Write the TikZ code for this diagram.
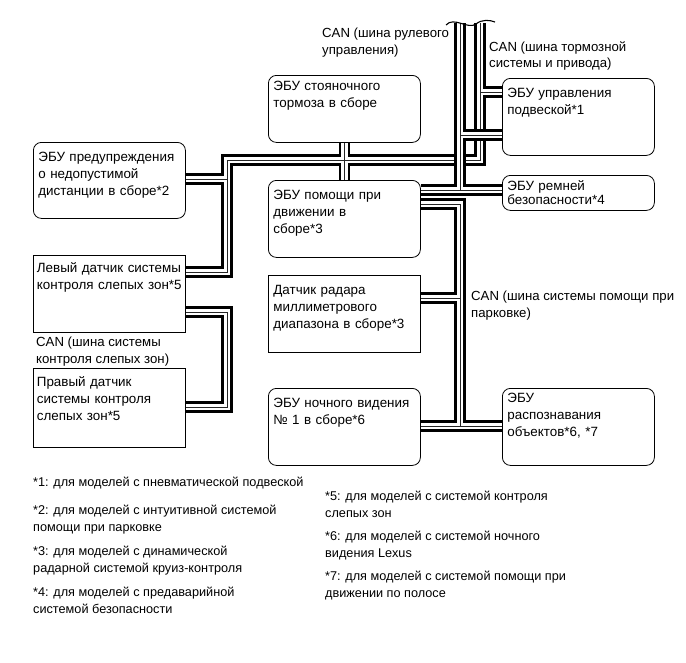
\documentclass[tikz,border=0pt]{standalone}
\usepackage{fontspec}
\setmainfont{Liberation Sans}
\pgfdeclarelayer{background}
\pgfsetlayers{background,main}

% one CAN pair: outer wires, gap, core line
\newcommand{\canbus}[1]{%
  \draw[busout] #1;
  \draw[busgap] #1;
  \draw[buscore] #1;}

\begin{document}
\begin{tikzpicture}[x=1pt, y=-1pt,
    ecu/.style={draw, line width=0.8pt, rounded corners=8pt, anchor=north west,
      inner xsep=5pt, inner ysep=0pt, text width=142pt, align=left,
      font=\fontsize{13.4}{16.8}\selectfont, text height=19pt, text depth=#1},
    ecu/.default=58pt,
    sensor/.style={ecu=#1, sharp corners, inner xsep=3.5pt, text width=145pt},
    sensor/.default=58pt,
    buslabel/.style={anchor=north west, inner sep=0pt, align=left,
      font=\fontsize{13.2}{16.5}\selectfont},
    note/.style={anchor=north west, inner sep=0pt, align=left,
      font=\fontsize{12.7}{16.5}\selectfont},
    busout/.style={line width=11.5pt, black},
    busgap/.style={line width=6.3pt, white},
    buscore/.style={line width=0.8pt, black!85}]
  \useasboundingbox (0,0) rectangle (686,662);

  % control units
  \node[ecu=57pt] (dw) at (33,142) {ЭБУ предупреждения\\о недопустимой\\дистанции в сборе*2};
  \node[sensor, text height=17pt, text depth=60pt] (lbsm) at (33,255) {\mbox{Левый датчик системы}\\контроля слепых зон*5};
  \node[sensor=61pt, text height=18pt] (rbsm) at (33,368) {Правый датчик\\системы контроля\\слепых зон*5};
  \node[ecu=52pt, text height=15pt] (pkb) at (268,75) {ЭБУ стояночного\\тормоза в сборе};
  \node[ecu] (das) at (268,180) {ЭБУ помощи при\\движении в\\сборе*3};
  \node[sensor, inner xsep=5pt, text width=142pt] (mmw) at (268,275) {Датчик радара\\миллиметрового\\диапазона в сборе*3};
  \node[ecu] (nv) at (268,388) {ЭБУ ночного видения\\№ 1 в сборе*6};
  \node[ecu] (susp) at (502,78) {ЭБУ управления\\подвеской*1};
  \node[ecu=20pt, text height=15pt, font=\fontsize{13.4}{14}\selectfont] (sb) at (502,175) {ЭБУ ремней\\безопасности*4};
  \node[ecu=63pt, text height=14pt] (obj) at (502,388) {ЭБУ\\распознавания\\объектов*6, *7};

  % bus corners and junctions
  \coordinate (topA) at (460,23);
  \coordinate (topB) at (480,23);
  \coordinate (kB) at (480,160);
  \coordinate (kL) at (227,160);
  \coordinate (jDW) at (227,179);
  \coordinate (jL) at (227,272);
  \coordinate (jS1) at (227,312);
  \coordinate (jS2) at (227,407);
  \coordinate (jSu1) at (480,92);
  \coordinate (jSu2) at (460,135);
  \coordinate (jSB) at (460,190);
  \coordinate (jC) at (460,204);
  \coordinate (jMM) at (460,298);
  \coordinate (jNV) at (460,426);

  \begin{pgfonlayer}{background}
    % brake / drive bus
    \canbus{(topB) -- (kB) -- (kL) -- (jL) -- (lbsm.east |- jL)
      (jDW) -- (dw.east |- jDW)
      (jSu1) -- (susp.west |- jSu1)
      (pkb.south) -- (das.north)}
    % parking assist bus
    \canbus{(das.east |- jC) -- (jC) -- (jNV)
      (mmw.east |- jMM) -- (jMM)
      (nv.east |- jNV) -- (obj.west |- jNV)}
    % blind spot bus
    \canbus{(lbsm.east |- jS1) -- (jS1) -- (jS2) -- (rbsm.east |- jS2)}
    % steering bus, drawn over the others
    \canbus{(topA) -- (jSB)
      (das.east |- jSB) -- (sb.west |- jSB)
      (jSu2) -- (susp.west |- jSu2)}
  \end{pgfonlayer}
  \draw[line width=1.1pt] (446,25) .. controls (454,16) and (468,30) .. (476,24)
    .. controls (482,19) and (490,20) .. (495,22);

  % bus labels
  \node[buslabel] (lSteer) at (322,28) {CAN (шина рулевого\\управления)};
  \node[buslabel] (lBrake) at (489,41) {CAN (шина тормозной\\системы и привода)};
  \node[buslabel] (lPark) at (471,291) {CAN (шина системы помощи при\\парковке)};
  \node[buslabel] (lBsm) at (36,337) {CAN (шина системы\\контроля слепых зон)};

  % footnotes
  \node[note] (n1) at (33,477) {*1: для моделей с пневматической подвеской};
  \node[note] (n2) at (33,505) {*2: для моделей с интуитивной системой\\помощи при парковке};
  \node[note] (n3) at (33,546) {*3: для моделей с динамической\\радарной системой круиз-контроля};
  \node[note] (n4) at (33,587) {*4: для моделей с предаварийной\\системой безопасности};
  \node[note] (n5) at (325,491) {*5: для моделей с системой контроля\\слепых зон};
  \node[note] (n6) at (325,531) {*6: для моделей с системой ночного\\видения Lexus};
  \node[note] (n7) at (325,571) {*7: для моделей с системой помощи при\\движении по полосе};
\end{tikzpicture}
\end{document}
